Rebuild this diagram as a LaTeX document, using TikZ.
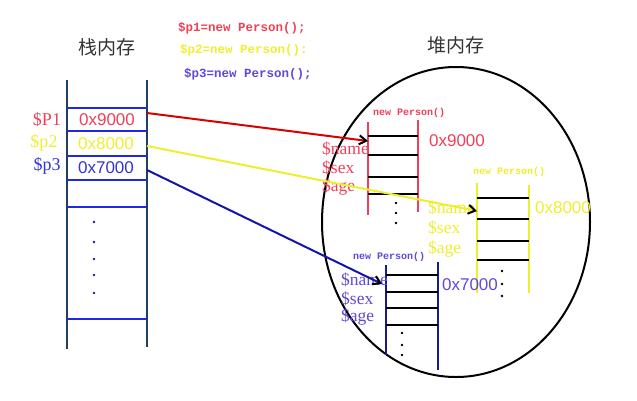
\documentclass[tikz,border=0pt]{standalone}
\usepackage{fontspec}
\setmainfont{Liberation Serif}
\setmonofont{Liberation Mono}
\newfontfamily\cjk{Noto Sans CJK SC}
\newfontfamily\addrfont{Liberation Sans}
\usetikzlibrary{arrows.meta}

\definecolor{pred}{HTML}{EE4058}
\definecolor{pyellow}{HTML}{EEEE30}
\definecolor{pblue}{HTML}{3434D0}
\definecolor{ppurple}{HTML}{6048DC}
\definecolor{stackline}{HTML}{1F3F5F}
\definecolor{stackrow}{HTML}{1E28E6}
\definecolor{navy}{HTML}{1A1A90}

\tikzset{
  title/.style={font=\cjk\fontsize{19}{19}\selectfont, text=black!80, inner sep=0pt},
  addr/.style={font=\addrfont\fontsize{17}{17}\selectfont, inner sep=0pt},
  var/.style={font=\fontsize{18}{18}\selectfont, inner sep=0pt},
  code/.style={font=\ttfamily\bfseries\fontsize{12.5}{12.5}\selectfont, inner sep=0pt, anchor=west},
  ctor/.style={font=\ttfamily\bfseries\fontsize{10}{10}\selectfont, inner sep=0pt, anchor=west},
  field/.style={font=\fontsize{17.5}{17.5}\selectfont, inner sep=0pt, anchor=west},
  row/.style={line width=2pt, black},
  ref/.style={line width=2pt, -{Straight Barb[black,length=7pt,width=9pt]}},
  dot/.style={circle, fill=black, inner sep=0pt, minimum size=2.6pt},
}

\begin{document}
\begin{tikzpicture}[x=1pt, y=-1pt]
\useasboundingbox (0,0) rectangle (637,400);

% titles and code
\node[title] (stacktitle) at (107,47) {栈内存};
\node[title] (heaptitle) at (456,45) {堆内存};
\node[code, text=pred] (code1) at (178,28) {\$p1=new Person();};
\node[code, text=pyellow] (code2) at (180,50) {\$p2=new Person():};
\node[code, text=ppurple] (code3) at (184,74) {\$p3=new Person();};

% stack
\draw[stackline, line width=2.5pt] (67,80) -- (67,349);
\draw[stackline, line width=2.5pt] (147,80) -- (147,347);
\foreach \y in {108,131,156,180,207,319}
  \draw[stackrow, line width=2pt] (67,\y) -- (147,\y);
\foreach \y in {222,242,259,275,293}
  \node[dot, fill=navy] at (94,\y) {};

\node[var, text=pred] (p1) at (47,120) {\$P1};
\node[var, text=pyellow] (p2) at (44,143) {\$p2};
\node[var, text=pblue] (p3) at (47,166) {\$p3};
\node[addr, text=pred] (s1) at (107,120) {0x9000};
\node[addr, text=pyellow] (s2) at (106,144) {0x8000};
\node[addr, text=pblue] (s3) at (106,168) {0x7000};

\coordinate (s1out) at (147,113);
\coordinate (s2out) at (147,146);
\coordinate (s3out) at (147,170);

% heap
\draw[black, line width=2pt] (456,222) ellipse [x radius=134, y radius=155];

% object at 0x9000
\draw[pred, line width=2pt] (368,122) -- (368,215);
\draw[pred, line width=2pt] (418,120) -- (418,212);
\foreach \y in {136,155,177,194}
  \draw[row] (368,\y) -- (418,\y);
\foreach \y in {203,213,223}
  \node[dot] at (396,\y) {};
\node[ctor, text=pred] (new1) at (373,113) {new Person()};
\node[addr, text=pred] (h1) at (457,141) {0x9000};
\node[field, text=pred] (name1) at (322,149) {\$name};
\node[field, text=pred] (sex1) at (322,168) {\$sex};
\node[field, text=pred] (age1) at (322,187) {\$age};
\coordinate (h1in) at (368,141);

% object at 0x8000
\draw[pyellow, line width=2pt] (477,183) -- (477,293);
\draw[pyellow, line width=2pt] (529,185) -- (529,293);
\foreach \y in {198,219,241,260}
  \draw[row] (477,\y) -- (529,\y);
\foreach \y in {271,284,296}
  \node[dot] at (502,\y) {};
\node[ctor, text=pyellow] (new2) at (473,172) {new Person()};
\node[addr, text=pyellow] (h2) at (563,208) {0x8000};
\node[field, text=pyellow] (name2) at (428,208) {\$name};
\node[field, text=pyellow] (sex2) at (428,228) {\$sex};
\node[field, text=pyellow] (age2) at (428,249) {\$age};
\coordinate (h2in) at (477,211);

% object at 0x7000
\draw[navy, line width=2pt] (386,265) -- (386,355);
\draw[navy, line width=2pt] (438,262) -- (438,370);
\foreach \y in {275,292,308,325}
  \draw[row] (386,\y) -- (438,\y);
\foreach \y in {333,345,355}
  \node[dot] at (402,\y) {};
\node[ctor, text=ppurple] (new3) at (353,257) {new Person()};
\node[addr, text=ppurple] (h3) at (470,285) {0x7000};
\node[field, text=ppurple] (name3) at (341,280) {\$name};
\node[field, text=ppurple] (sex3) at (341,299) {\$sex};
\node[field, text=ppurple] (age3) at (341,317) {\$age};
\coordinate (h3in) at (382,284);

% references
\draw[ref, draw=red!85!black] (s1out) -- (h1in);
\draw[ref, draw=pyellow] (s2out) -- (h2in);
\draw[ref, draw=navy!80!blue] (s3out) -- (h3in);
\end{tikzpicture}
\end{document}
